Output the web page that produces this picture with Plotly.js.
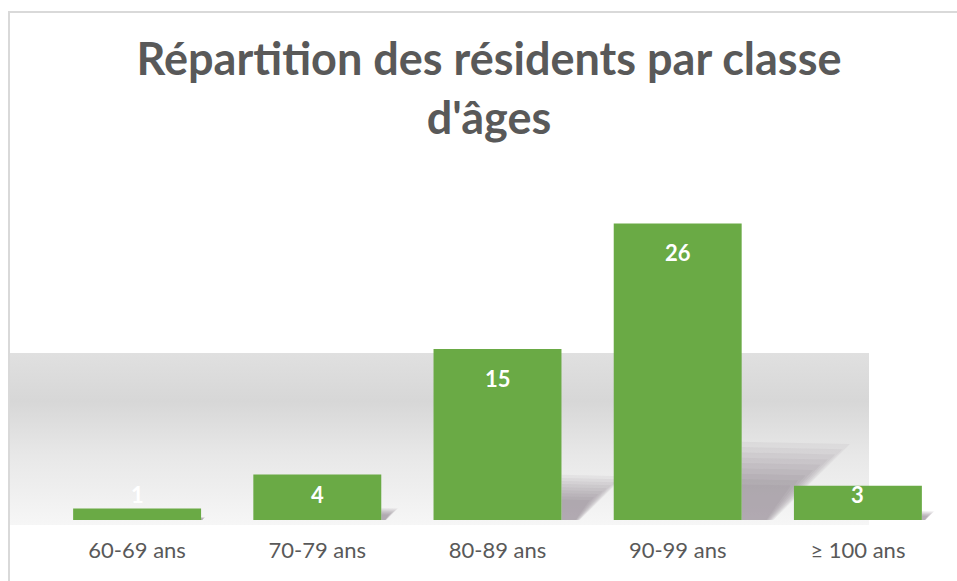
<!DOCTYPE html>
<html>
<head>
<meta charset="utf-8">
<script src="https://cdn.plot.ly/plotly-3.0.1.min.js"></script>
<style>
  html, body { margin: 0; padding: 0; background: #ffffff; }
  #wrap { position: relative; width: 957px; height: 581px; overflow: hidden; }
  #chart { position: absolute; left: 0; top: 0; width: 957px; height: 581px; }
  #frame { position: absolute; left: 8px; top: 11px; width: 980px; height: 600px;
           border-top: 2px solid #d9d9d9; border-left: 2px solid #d9d9d9; pointer-events: none; }
</style>
</head>
<body>
<div id="wrap">
  <div id="chart"></div>
  <div id="frame"></div>
</div>
<script>
// ---- data ----
const categories = ["60-69 ans", "70-79 ans", "80-89 ans", "90-99 ans", "\u2265 100 ans"];
const residents = [1, 4, 15, 26, 3];
const chartTitle = "Répartition des résidents par classe<br>d'âges";

// ---- styling ----
const barColor = "#6aaa45";
const textGrey = "#595959";
const bargap = 0.29;
const halfW = (1 - bargap) / 2;
const idx = categories.map((c, i) => i);

// gray floor band (decorative, drawn as an SVG gradient image)
const bandSvg = '<svg xmlns="http://www.w3.org/2000/svg" width="100" height="100" preserveAspectRatio="none">' +
  '<defs><linearGradient id="g" x1="0" y1="0" x2="0" y2="1">' +
  '<stop offset="0" stop-color="#e0e0e0"/>' +
  '<stop offset="0.28" stop-color="#d7d7d7"/>' +
  '<stop offset="0.6" stop-color="#e8e8e8"/>' +
  '<stop offset="1" stop-color="#f6f6f6"/>' +
  '</linearGradient></defs><rect width="100" height="100" fill="url(#g)"/></svg>';
const bandSrc = 'data:image/svg+xml;charset=utf-8,' + encodeURIComponent(bandSvg);

// soft cast shadows derived from each bar value (layered for a blurred look)
const shapes = [];
residents.forEach((v, i) => {
  const xr = i + halfW;
  const h = v * 0.24, dx = v * 0.021, dxb = v * 0.004;
  for (let k = 0; k < 9; k++) {
    const s = 0.5 + k * 0.075;
    shapes.push({
      type: 'path', xref: 'x', yref: 'y', layer: 'below',
      path: `M ${xr},0 L ${xr},${h * s} L ${xr + dx * s},${h * s * 0.97} L ${xr + dxb + dx * 0.12 * s},0 Z`,
      fillcolor: 'rgb(100,93,100)', opacity: 0.065, line: { width: 0 }
    });
  }
});

// value labels (white, bold, inside end; clamped near the base for short bars)
const annotations = residents.map((v, i) => ({
  x: i, y: Math.max(v - 2.55, 2.28), xref: 'x', yref: 'y',
  text: String(v), showarrow: false, xanchor: 'center', yanchor: 'middle',
  font: { family: 'Lato, sans-serif', size: 22, color: '#ffffff', weight: 'bold' }
}));

const trace = {
  type: 'bar', x: idx, y: residents,
  marker: { color: barColor, line: { width: 0 } },
  hoverinfo: 'skip', textposition: 'none'
};

const layout = {
  width: 957, height: 581,
  margin: { l: 47, r: 9, t: 178, b: 61, pad: 0 },
  paper_bgcolor: 'rgba(0,0,0,0)', plot_bgcolor: 'rgba(0,0,0,0)',
  showlegend: false, bargap: bargap,
  title: {
    text: chartTitle, x: (489 - 47) / 901, xanchor: 'center', xref: 'paper',
    y: 1 - 75 / 581, yanchor: 'middle', yref: 'container',
    font: { family: 'Lato, sans-serif', size: 45, color: textGrey, weight: 'bold' }
  },
  xaxis: {
    type: 'linear', range: [-0.5, 4.5], tickvals: idx, ticktext: categories,
    showgrid: false, zeroline: false, showline: false, ticks: '',
    ticklabelstandoff: 15,
    tickfont: { family: 'Lato, sans-serif', size: 22, color: textGrey }, fixedrange: true
  },
  yaxis: {
    range: [0, 30], visible: false, showgrid: false, zeroline: false, fixedrange: true
  },
  images: [{
    source: bandSrc, xref: 'paper', yref: 'paper',
    x: (10 - 47) / 901, y: (520 - 353) / 342,
    sizex: (869 - 10) / 901, sizey: (525 - 353) / 342,
    xanchor: 'left', yanchor: 'top', sizing: 'stretch', layer: 'below'
  }],
  shapes: shapes,
  annotations: annotations
};

Plotly.newPlot('chart', [trace], layout, { displayModeBar: false, staticPlot: true });
</script>
</body>
</html>
